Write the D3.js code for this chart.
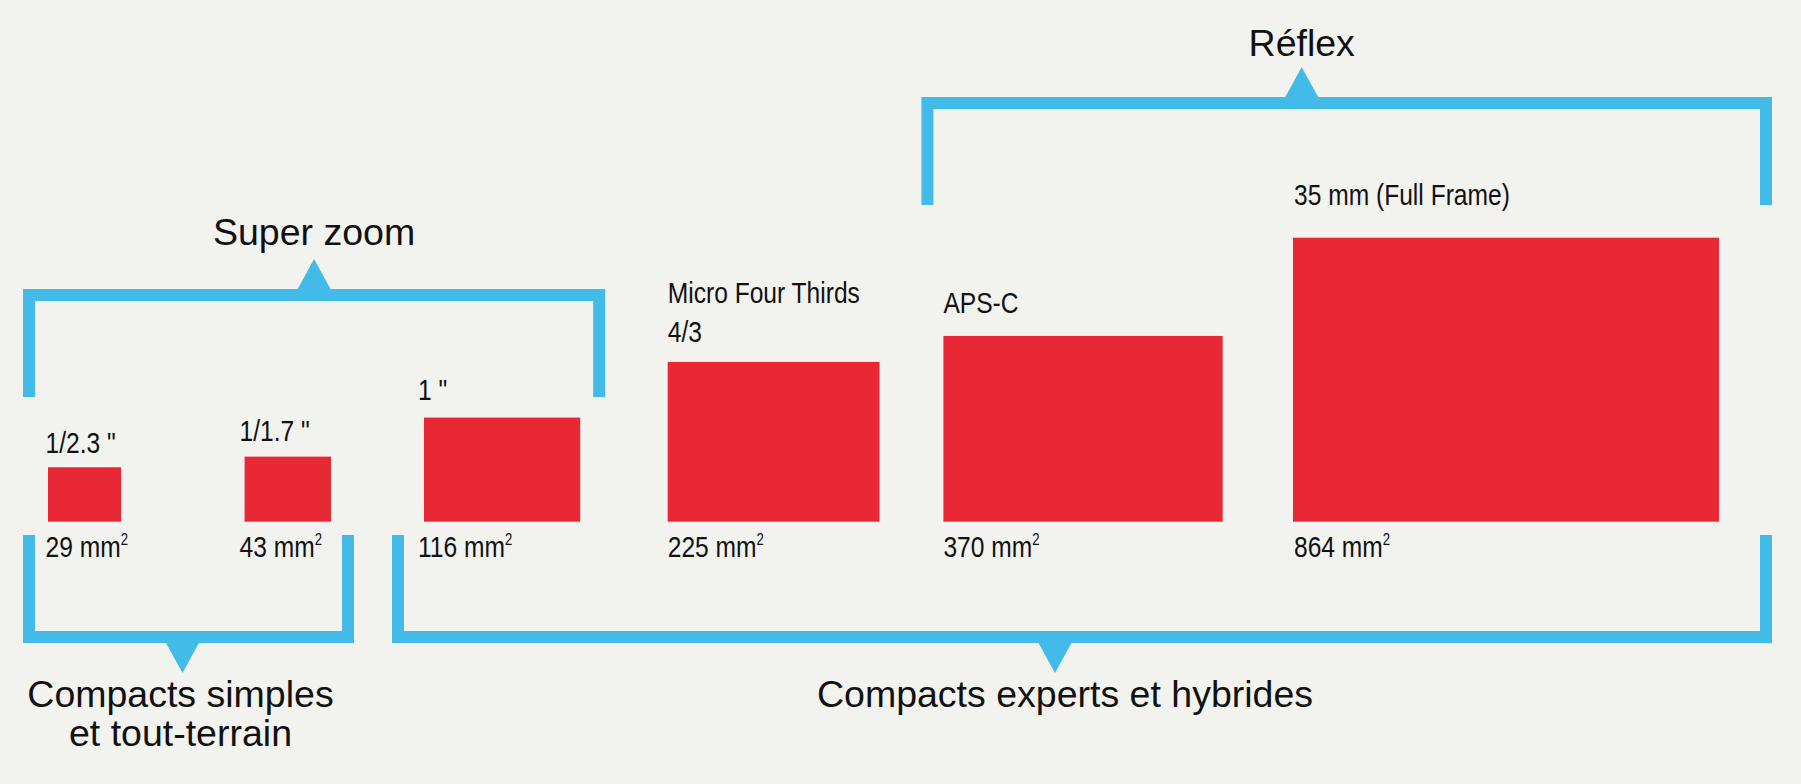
<!DOCTYPE html>
<html>
<head>
<meta charset="utf-8">
<script src="https://cdn.jsdelivr.net/npm/d3@7"></script>
<style>
  html, body { margin: 0; padding: 0; background: #f2f2ee; }
  svg { display: block; }
  .group-label { font-family: 'Liberation Sans', Arial, sans-serif; font-size: 37.5px; fill: #111; }
  .sensor-label, .area-label { font-family: 'Liberation Sans', Arial, sans-serif; font-size: 30px; fill: #111; }
</style>
</head>
<body>
<svg class="chart"></svg>
<script>
const WIDTH = 1801
const HEIGHT = 784

// sensor formats, sizes in mm
const sensors = ['1/2.3 "', '1/1.7 "', '1 "', 'Micro Four Thirds', 'APS-C', '35 mm (Full Frame)']
const sensorLines = [['1/2.3 "'], ['1/1.7 "'], ['1 "'], ['Micro Four Thirds', '4/3'], ['APS-C'], ['35 mm (Full Frame)']]
const widthsMm = [6.17, 7.3, 13.2, 17.9, 23.6, 36]
const heightsMm = [4.6, 5.5, 8.8, 13.5, 15.7, 24]
const areas = [29, 43, 116, 225, 370, 864]

// camera families and which sensors they span
const groupNames = ['Super zoom', 'Réflex', 'Compacts simples\net tout-terrain', 'Compacts experts et hybrides']
const groupFirst = [0, 4, 0, 2]
const groupLast = [2, 5, 1, 5]

const BASELINE = 521.7
const BLUE = '#42bbe8'
const RED = '#e82935'
const STROKE = 12
const ARM = 102
const TIP = 30
const NARROW = 0.82 // no condensed face installed, so squeeze the regular one

const svg = d3.select('.chart')
  .attr('width', WIDTH)
  .attr('height', HEIGHT)

svg.append('rect')
  .attr('width', WIDTH)
  .attr('height', HEIGHT)
  .attr('fill', '#f2f2ee')

const mm = d3.scaleLinear().domain([0, 36]).range([0, 426])
const slot = d3.scaleOrdinal()
  .domain(sensors)
  .range([48, 244.6, 424, 667.7, 943.4, 1293])

// nudges for the hand placed labels
const labelGap = [14, 15.6, 17.7, 20, 23, 33]
const labelDx = [-2.4, -5, -6, 0, 0, 1]

const items = sensors.map((name, i) => ({
  name,
  lines: sensorLines[i],
  w: widthsMm[i],
  h: heightsMm[i],
  area: areas[i],
  i
}))

// sensor rectangles

svg.selectAll('.sensor')
  .data(items)
  .enter()
  .append('rect')
  .attr('class', 'sensor')
  .attr('x', d => slot(d.name))
  .attr('y', d => BASELINE - mm(d.h))
  .attr('width', d => mm(d.w))
  .attr('height', d => mm(d.h))
  .attr('fill', RED)

svg.selectAll('.sensor-label')
  .data(items)
  .enter()
  .append('text')
  .attr('class', 'sensor-label')
  .attr('transform', d => {
    const y = BASELINE - mm(d.h) - labelGap[d.i] - (d.lines.length - 1) * 38.7
    return `translate(${slot(d.name) + labelDx[d.i]},${y}) scale(${NARROW},1)`
  })
  .selectAll('tspan')
  .data(d => d.lines)
  .enter()
  .append('tspan')
  .attr('x', 0)
  .attr('dy', (d, j) => j === 0 ? 0 : 38.7)
  .text(d => d)

const areaText = svg.selectAll('.area-label')
  .data(items)
  .enter()
  .append('text')
  .attr('class', 'area-label')
  .attr('transform', d => `translate(${slot(d.name) + labelDx[d.i]},556.7) scale(${NARROW},1)`)

areaText.append('tspan').text(d => `${d.area} mm`)
areaText.append('tspan')
  .attr('dy', -12)
  .style('font-size', '16px')
  .text('2')

// brackets

const brackets = [
  { side: 'top', barY: 295, padL: 25, padR: 25, tipDx: 0, textDx: 0 },
  { side: 'top', barY: 103, padL: 22, padR: 53, tipDx: -45, textDx: 0 },
  { side: 'bottom', barY: 637, padL: 25, padR: 23, tipDx: -6, textDx: -2 },
  { side: 'bottom', barY: 637, padL: 32, padR: 53, tipDx: -27, textDx: 10 }
].map((b, k) => {
  const first = items[groupFirst[k]]
  const last = items[groupLast[k]]
  const x0 = slot(first.name) - b.padL
  const x1 = slot(last.name) + mm(last.w) + b.padR
  return Object.assign(b, { x0, x1, label: groupNames[k], tipX: (x0 + x1) / 2 + b.tipDx })
})

const line = d3.line()

svg.selectAll('.bracket')
  .data(brackets)
  .enter()
  .append('path')
  .attr('class', 'bracket')
  .attr('d', b => {
    const dir = b.side === 'top' ? 1 : -1
    const l = b.x0 + STROKE / 2
    const r = b.x1 - STROKE / 2
    return line([[l, b.barY + dir * ARM], [l, b.barY], [r, b.barY], [r, b.barY + dir * ARM]])
  })
  .attr('fill', 'none')
  .attr('stroke', BLUE)
  .attr('stroke-width', STROKE)
  .attr('stroke-linejoin', 'miter')

svg.selectAll('.pointer')
  .data(brackets)
  .enter()
  .append('path')
  .attr('class', 'pointer')
  .attr('d', b => {
    const dir = b.side === 'top' ? -1 : 1
    const base = b.barY + dir * (STROKE / 2 - 1)
    return line([[b.tipX - 17, base], [b.tipX, base + dir * (TIP + 1)], [b.tipX + 17, base]]) + 'Z'
  })
  .attr('fill', BLUE)

svg.selectAll('.group-label')
  .data(brackets)
  .enter()
  .append('text')
  .attr('class', 'group-label')
  .attr('text-anchor', 'middle')
  .attr('y', b => b.side === 'top' ? b.barY - STROKE / 2 - TIP - (b.barY > 200 ? 14 : 11) : b.barY + STROKE / 2 + TIP + 34)
  .selectAll('tspan')
  .data(b => b.label.split('\n').map(t => ({ t, x: b.tipX + b.textDx })))
  .enter()
  .append('tspan')
  .attr('x', d => d.x)
  .attr('dy', (d, j) => j === 0 ? 0 : 38.5)
  .text(d => d.t)
</script>
</body>
</html>
